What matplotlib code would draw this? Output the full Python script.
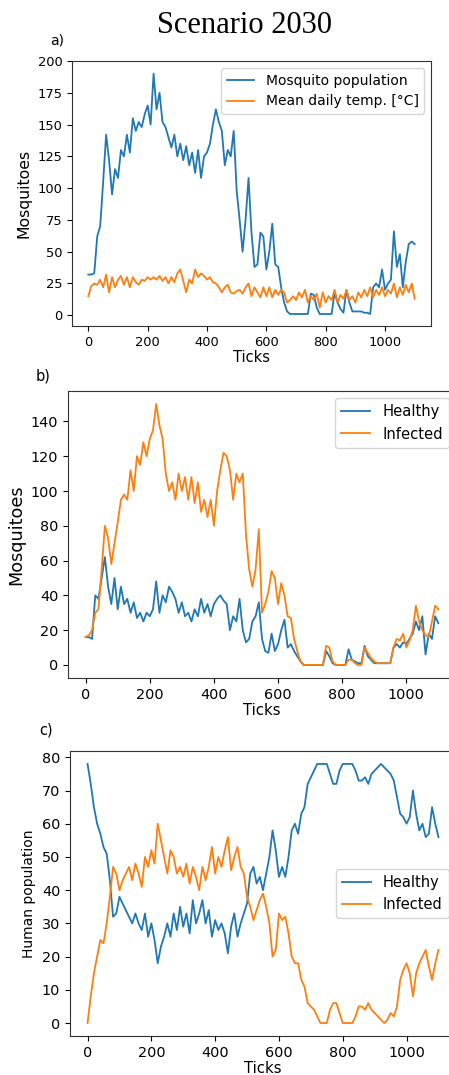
import numpy as np
import matplotlib.pyplot as plt

# Ticks sampled every 10 steps
ticks = np.arange(0, 1110, 10)

# a) mosquito population and mean daily temperature
mosquito_pop = [
    32, 32, 33, 62, 70, 105, 142, 122, 95, 115,
    108, 130, 125, 142, 128, 155, 145, 152, 148, 158,
    165, 150, 190, 162, 175, 152, 148, 140, 132, 142,
    125, 135, 122, 133, 118, 128, 112, 130, 108, 125,
    128, 135, 150, 162, 152, 145, 118, 130, 125, 145,
    98, 75, 50, 75, 108, 65, 38, 40, 65, 62,
    36, 50, 72, 40, 38, 22, 10, 3, 1, 1,
    1, 1, 1, 1, 1, 17, 16, 6, 1, 1,
    1, 1, 1, 18, 10, 5, 2, 20, 10, 3,
    3, 3, 3, 2, 2, 1, 22, 25, 22, 36,
    20, 25, 28, 66, 38, 48, 22, 42, 56, 58, 56,
]
mean_temp = [
    15, 23, 25, 24, 28, 22, 32, 18, 30, 22,
    28, 31, 24, 30, 22, 30, 26, 24, 28, 27,
    30, 28, 30, 28, 31, 27, 30, 25, 30, 26,
    33, 36, 27, 18, 28, 25, 36, 30, 33, 31,
    28, 30, 26, 25, 22, 18, 22, 24, 18, 17,
    19, 20, 17, 22, 25, 15, 22, 18, 14, 22,
    15, 22, 14, 20, 16, 20, 18, 10, 12, 15,
    12, 18, 14, 20, 10, 15, 12, 17, 6, 18,
    10, 15, 12, 20, 10, 16, 13, 20, 12, 15,
    10, 18, 14, 20, 15, 22, 14, 20, 16, 22,
    15, 20, 17, 25, 14, 22, 16, 24, 18, 25, 13,
]

# b) mosquitoes healthy / infected
mosq_healthy = [
    16, 16, 15, 40, 38, 50, 62, 45, 35, 50,
    32, 45, 35, 38, 30, 36, 27, 30, 25, 30,
    28, 32, 48, 30, 40, 36, 45, 42, 38, 30,
    36, 28, 30, 25, 32, 28, 38, 30, 35, 28,
    35, 38, 40, 37, 35, 20, 28, 25, 38, 20,
    13, 15, 25, 28, 36, 15, 8, 7, 18, 8,
    12, 20, 26, 10, 12, 8, 5, 2, 0, 0,
    0, 0, 0, 0, 0, 8, 5, 1, 0, 0,
    0, 0, 9, 3, 2, 1, 1, 11, 5, 3,
    1, 1, 1, 1, 1, 1, 10, 12, 10, 13,
    12, 15, 18, 25, 20, 28, 6, 18, 15, 28, 24,
]
mosq_infected = [
    16, 17, 20, 30, 32, 55, 80, 73, 58, 70,
    82, 95, 98, 95, 112, 100, 120, 115, 128, 120,
    130, 135, 150, 138, 130, 110, 100, 105, 95, 110,
    100, 108, 95, 108, 93, 105, 88, 95, 85, 95,
    80, 100, 112, 122, 120, 112, 95, 110, 105, 110,
    75, 55, 45, 55, 78, 30, 35, 42, 54, 50,
    35, 47, 40, 28, 27, 15, 8, 2, 0, 0,
    0, 0, 0, 0, 0, 11, 10, 2, 0, 0,
    0, 0, 3, 3, 1, 0, 0, 10, 7, 4,
    2, 1, 1, 1, 1, 1, 10, 15, 14, 18,
    10, 14, 20, 34, 25, 20, 17, 16, 25, 34, 32,
]

# c) human population healthy / infected
human_healthy = [
    78, 72, 65, 60, 57, 53, 51, 43, 32, 33,
    38, 36, 34, 32, 30, 33, 30, 28, 33, 26,
    30, 25, 18, 23, 26, 30, 26, 33, 28, 35,
    29, 33, 27, 37, 30, 33, 37, 30, 34, 26,
    31, 28, 30, 27, 21, 29, 33, 26, 30, 33,
    36, 45, 47, 42, 44, 40, 45, 50, 58, 52,
    44, 47, 44, 50, 58, 60, 57, 63, 65, 72,
    74, 76, 78, 78, 78, 78, 75, 72, 72, 76,
    78, 78, 78, 78, 76, 73, 73, 74, 72, 75,
    76, 77, 78, 77, 76, 75, 73, 68, 63, 62,
    60, 62, 70, 63, 58, 60, 56, 57, 65, 60, 56,
]
human_infected = [
    0, 8, 15, 20, 25, 24, 30, 38, 47, 45,
    40, 43, 45, 47, 43, 48, 45, 41, 50, 47,
    52, 48, 60, 55, 50, 45, 52, 50, 45, 47,
    44, 48, 42, 47, 44, 40, 47, 43, 47, 53,
    45, 50, 47, 52, 56, 46, 50, 53, 47, 45,
    38, 35, 31, 34, 37, 39, 35, 30, 20, 22,
    33, 31, 32, 27, 20, 18, 18, 13, 11, 6,
    5, 4, 2, 0, 0, 0, 4, 6, 6, 3,
    0, 0, 0, 0, 2, 5, 5, 4, 6, 4,
    3, 2, 1, 0, 1, 3, 2, 5, 13, 16,
    18, 15, 8, 15, 18, 20, 22, 17, 13, 18, 22,
]

W, H = 449, 1075


def panel(fig, box, tick_fs, label_fs, legend_fs):
    # box given in pixels: left, top, width, height
    left, top, width, height = box
    ax = fig.add_axes([left / W, 1 - (top + height) / H, width / W, height / H])
    ax.tick_params(labelsize=tick_fs)
    for s in ax.spines.values():
        s.set_color("#333333")
    return ax


def main():
    fig = plt.figure(figsize=(W / 100, H / 100), dpi=100)

    fig.text(245 / W, 1 - 33 / H, "Scenario 2030", ha="center", va="baseline",
             fontsize=22, family="Liberation Serif")

    # a)
    ax = panel(fig, (72, 61, 359, 265), 9.4, 11.3, 10)
    ax.plot(ticks, mosquito_pop, color="#1f77b4", lw=1.3, label="Mosquito population")
    ax.plot(ticks, mean_temp, color="#ff7f0e", lw=1.3, label="Mean daily temp. [°C]")
    ax.set_yticks(np.arange(0, 201, 25))
    ax.set_xticks(np.arange(0, 1001, 200))
    ax.set_xlabel("Ticks", fontsize=10.5, labelpad=1)
    ax.set_ylabel("Mosquitoes", fontsize=11.3)
    ax.legend(loc="upper right", fontsize=10)
    fig.text(50 / W, 1 - 40 / H, "a)", va="center", fontsize=10)

    # b)
    ax = panel(fig, (68, 391, 388, 287), 10.4, 12.7, 10.6)
    ax.plot(ticks, mosq_healthy, color="#1f77b4", lw=1.3, label="Healthy")
    ax.plot(ticks, mosq_infected, color="#ff7f0e", lw=1.3, label="Infected")
    ax.set_yticks(np.arange(0, 141, 20))
    ax.set_xticks(np.arange(0, 1001, 200))
    ax.set_xlabel("Ticks", fontsize=10.7, labelpad=1)
    ax.set_ylabel("Mosquitoes", fontsize=12.7)
    ax.legend(loc="upper right", fontsize=10.6)
    fig.text(36 / W, 1 - 376 / H, "b)", va="center", fontsize=10.5)

    # c)
    ax = panel(fig, (70, 751, 386, 285), 10.4, 10, 10.5)
    ax.plot(ticks, human_healthy, color="#1f77b4", lw=1.3, label="Healthy")
    ax.plot(ticks, human_infected, color="#ff7f0e", lw=1.3, label="Infected")
    ax.set_yticks(np.arange(0, 81, 10))
    ax.set_xticks(np.arange(0, 1001, 200))
    ax.set_xlabel("Ticks", fontsize=10.7, labelpad=1)
    ax.set_ylabel("Human population", fontsize=10)
    ax.legend(loc="center right", fontsize=10.5)
    fig.text(39 / W, 1 - 730 / H, "c)", va="center", fontsize=10.5)

    fig.savefig("out.png", dpi=100)


if __name__ == "__main__":
    main()
